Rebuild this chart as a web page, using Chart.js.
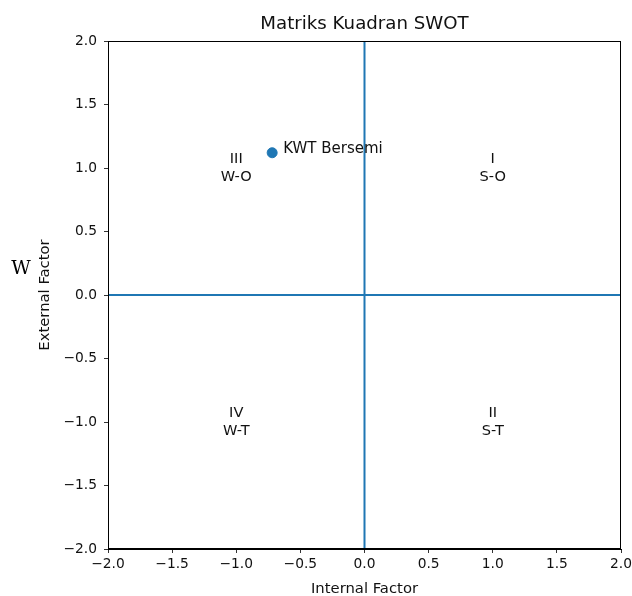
<!DOCTYPE html>
<html>
<head>
<meta charset="utf-8">
<script src="https://cdn.jsdelivr.net/npm/chart.js@4"></script>
<style>
  html, body { margin: 0; padding: 0; background: #fff; }
  #wrap { width: 632px; height: 596px; }
</style>
</head>
<body>
<div id="wrap"><canvas id="swot" width="632" height="596"></canvas></div>
<script>
// ---------- Data ----------
const pointName = "KWT Bersemi";
const pointX = [-0.72];
const pointY = [1.12];

const quadX = [1, -1, -1, 1];
const quadY = [1, 1, -1, -1];
const quadNum = ["I", "III", "IV", "II"];
const quadCode = ["S-O", "W-O", "W-T", "S-T"];

const axisMin = -2;
const axisMax = 2;

const FONT = "'DejaVu Sans', sans-serif";
const BLUE = "#1f77b4";
const INK = "#111";
const fmtTick = (v) => v.toFixed(1).replace("-", "\u2212");

// ---------- Extra drawing ----------
const overlay = {
  id: "overlay",
  afterDraw(chart) {
    const { ctx, chartArea: a, scales: { x, y } } = chart;
    ctx.save();
    // frame top/right
    ctx.strokeStyle = "#000";
    ctx.lineWidth = 1;
    ctx.strokeRect(a.left + 0.5, a.top + 0.5, a.right - a.left - 1, a.bottom - a.top - 1);

    ctx.fillStyle = INK;
    ctx.textAlign = "center";
    ctx.textBaseline = "middle";
    ctx.font = `14.6px ${FONT}`;
    quadNum.forEach((n, i) => {
      const px = x.getPixelForValue(quadX[i]);
      const py = y.getPixelForValue(quadY[i]);
      ctx.fillText(n, px, py - 9);
      ctx.fillText(quadCode[i], px, py + 9);
    });

    // point label
    ctx.textAlign = "left";
    ctx.font = `15px ${FONT}`;
    ctx.fillText(pointName, x.getPixelForValue(pointX[0]) + 11, y.getPixelForValue(pointY[0]) - 4);

    // title
    ctx.font = `18.2px ${FONT}`;
    ctx.textAlign = "center";
    ctx.fillText("Matriks Kuadran SWOT", (a.left + a.right) / 2, 24);

    // axis titles
    ctx.font = `14.8px ${FONT}`;
    ctx.fillText("Internal Factor", (a.left + a.right) / 2, 589);
    ctx.save();
    ctx.translate(45, (a.top + a.bottom) / 2);
    ctx.rotate(-Math.PI / 2);
    ctx.fillText("External Factor", 0, 0);
    ctx.restore();

    // stray glyph at the left edge
    ctx.font = `19px 'DejaVu Serif', serif`;
    ctx.fillStyle = "#000";
    ctx.fillText("W", 21, 269);
    ctx.restore();
  }
};

new Chart(document.getElementById("swot"), {
  type: "scatter",
  data: {
    datasets: [
      {
        label: "h",
        data: [{ x: axisMin, y: 0 }, { x: axisMax, y: 0 }],
        showLine: true,
        borderColor: BLUE,
        borderWidth: 2,
        pointRadius: 0,
      },
      {
        label: "v",
        data: [{ x: 0, y: axisMin }, { x: 0, y: axisMax }],
        showLine: true,
        borderColor: BLUE,
        borderWidth: 2,
        pointRadius: 0,
      },
      {
        label: pointName,
        data: pointX.map((v, i) => ({ x: v, y: pointY[i] })),
        backgroundColor: BLUE,
        borderColor: BLUE,
        pointRadius: 5,
      },
    ],
  },
  options: {
    responsive: false,
    animation: false,
    layout: { padding: { left: 0, top: 41, right: 11, bottom: 0 } },
    plugins: { legend: { display: false }, tooltip: { enabled: false } },
    scales: {
      x: {
        type: "linear",
        min: axisMin,
        max: axisMax,
        afterFit: (s) => { s.height = 47; s.paddingRight = 0; s.paddingLeft = 0; },
        ticks: { stepSize: 0.5, color: INK, font: { family: FONT, size: 13.8 }, padding: 3, maxRotation: 0, callback: fmtTick },
        grid: { display: true, drawOnChartArea: false, drawTicks: true, tickLength: 4, color: "#333" },
        border: { display: true, color: "#000" },
      },
      y: {
        type: "linear",
        min: axisMin,
        max: axisMax,
        afterFit: (s) => { s.width = 108; s.paddingTop = 0; s.paddingBottom = 0; },
        ticks: { stepSize: 0.5, color: INK, font: { family: FONT, size: 13.8 }, padding: 7, callback: fmtTick },
        grid: { display: true, drawOnChartArea: false, drawTicks: true, tickLength: 4, color: "#333" },
        border: { display: true, color: "#000" },
      },
    },
  },
  plugins: [overlay],
});
</script>
</body>
</html>
